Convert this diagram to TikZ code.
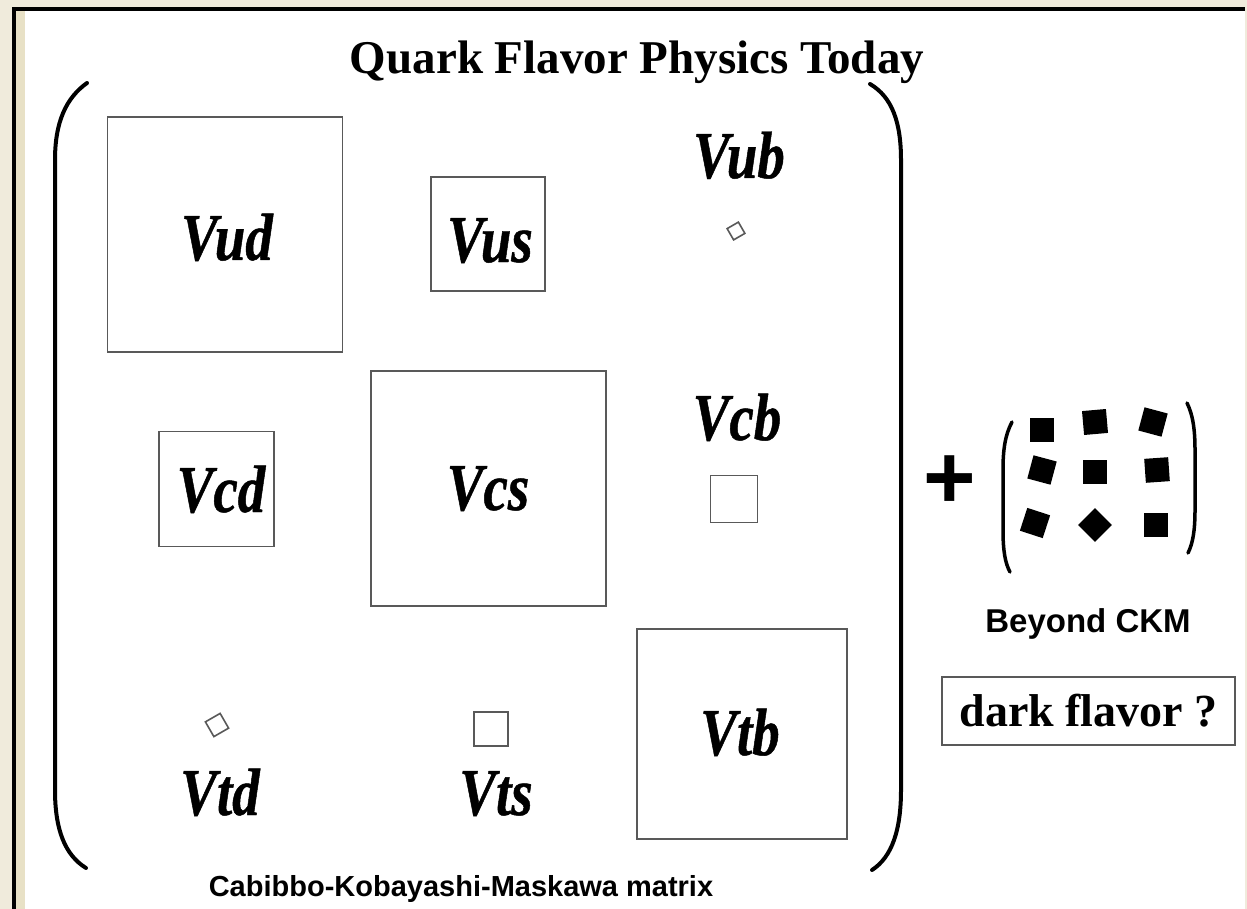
\documentclass[tikz,border=0pt]{standalone}
\usepackage{fontspec}
\setmainfont{Liberation Serif}
\setsansfont{Liberation Sans}
\newfontfamily\vfont{Liberation Serif}[FakeStretch=0.82,FakeBold=0.7]
\definecolor{frame}{RGB}{240,235,220}
\definecolor{framein}{RGB}{232,225,198}
\tikzset{
  cell/.style={draw=black!65, line width=1.6pt, inner sep=0pt, minimum size=#1},
  vlab/.style={anchor=base, font=\vfont\bfseries\itshape\fontsize{67}{67}\selectfont},
  blk/.style={fill=black, inner sep=0pt, minimum size=24pt, rotate=#1},
  paren/.style={line width=4pt, line cap=round},
}
\begin{document}
\begin{tikzpicture}[x=1pt,y=-1pt]
\useasboundingbox (0,0) rectangle (1247,909);
\fill[frame] (0,0) rectangle (1247,909);
\fill[white] (16,11) rectangle (1245,909);
\fill[framein] (16,11) rectangle (25,909);
\fill[black] (12,7) rectangle (16,909);
\fill[black] (12,7) rectangle (1245,11);

\node[anchor=base, font=\bfseries\fontsize{47}{47}\selectfont] (title) at (637,74) {Quark Flavor Physics Today};

\draw[paren] (87,83) .. controls (66,98) and (55,122) .. (55,160) -- (55,790) .. controls (55,830) and (65,855) .. (86,868);
\draw[paren] (870,84) .. controls (892,97) and (901,122) .. (901,160) -- (901,790) .. controls (901,830) and (892,857) .. (872,870);

\node[cell=235] (vudbox) at (225,234.5) {};
\node[cell=114] (vusbox) at (488,234) {};
\node[cell=13, rotate=30] (vubbox) at (736,231) {};
\node[cell=115] (vcdbox) at (216.5,489) {};
\node[cell=235] (vcsbox) at (488.5,488.5) {};
\node[cell=47] (vcbbox) at (734,499) {};
\node[cell=17, rotate=30] (vtdbox) at (217,725) {};
\node[cell=34] (vtsbox) at (491,729) {};
\node[cell=210] (vtbbox) at (742,734) {};

\node[vlab] (vud) at (227,260) {Vud};
\node[vlab] (vus) at (490,262) {Vus};
\node[vlab] (vub) at (739,178) {Vub};
\node[vlab] (vcd) at (221,512) {Vcd};
\node[vlab] (vcs) at (488,510) {Vcs};
\node[vlab] (vcb) at (737,440) {Vcb};
\node[vlab] (vtd) at (220,815) {Vtd};
\node[vlab] (vts) at (496,815) {Vts};
\node[vlab] (vtb) at (740,755) {Vtb};

\node[anchor=base, font=\sffamily\bfseries\fontsize{29}{29}\selectfont] (ckm) at (461,896) {Cabibbo-Kobayashi-Maskawa matrix};

\node[font=\sffamily\bfseries\fontsize{90}{90}\selectfont] (plus) at (950,482) {+};
\draw[paren, line width=3.5pt] (1012,422) .. controls (1005,435) and (1003,450) .. (1003,470) -- (1003,530) .. controls (1003,550) and (1005,563) .. (1010,572);
\draw[paren, line width=3.5pt] (1187,403) .. controls (1193,415) and (1195,430) .. (1195,450) -- (1195,510) .. controls (1195,530) and (1193,543) .. (1188,553);
\foreach \x/\y/\a [count=\i] in {1042/430/0, 1095/422/5, 1153/422/-15, 1042/470/-15, 1095/472/0, 1157/470/4, 1035/523/-18, 1095/525/45, 1156/525/0}
  \node[blk=\a] (sq\i) at (\x,\y) {};

\node[anchor=base, font=\sffamily\bfseries\fontsize{33}{33}\selectfont] (beyond) at (1088,632) {Beyond CKM};
\node[draw=black!65, line width=1.6pt, minimum width=293pt, minimum height=68pt, font=\bfseries\fontsize{46}{46}\selectfont] (dark) at (1088.5,711) {dark flavor ?};
\end{tikzpicture}
\end{document}
